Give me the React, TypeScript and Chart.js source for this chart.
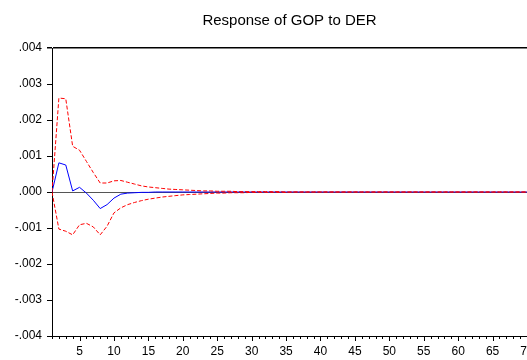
import React, { useEffect, useRef } from "react";
import { Chart, registerables } from "chart.js";

Chart.register(...registerables);

const TITLE = "Response of GOP to DER";
const periods: number[] = Array.from({ length: 70 }, (_, i) => i + 1);

const response: number[] = [
  0, 0.00081, 0.00075, 0.00003, 0.00013, -0.00003, -0.00023, -0.00046, -0.00035, -0.00017,
  -0.00006, -0.00003, -0.00002, -0.00001, -0.00001, 0, 0, 0, 0, 0,
  0, 0, 0, 0, 0, 0, 0, 0, 0, 0,
  0, 0, 0, 0, 0, 0, 0, 0, 0, 0,
  0, 0, 0, 0, 0, 0, 0, 0, 0, 0,
  0, 0, 0, 0, 0, 0, 0, 0, 0, 0,
  0, 0, 0, 0, 0, 0, 0, 0, 0, 0,
];

const upperBand: number[] = [
  0, 0.00261, 0.00259, 0.00127, 0.00116, 0.00085, 0.00054, 0.00025, 0.00025, 0.00031,
  0.00032, 0.00027, 0.00022, 0.00017, 0.00014, 0.00012, 0.0001, 0.00008, 0.00007, 0.00006,
  0.00005, 0.00004, 0.00003, 0.00003, 0.00002, 0.00002, 0.00002, 0.00001, 0.00001, 0.00001,
  0.00001, 0.00001, 0.00001, 0.00001, 0, 0, 0, 0, 0, 0,
  0, 0, 0, 0, 0, 0, 0, 0, 0, 0,
  0, 0, 0, 0, 0, 0, 0, 0, 0, 0,
  0, 0, 0, 0, 0, 0, 0, 0, 0, 0,
];

const lowerBand: number[] = [
  0, -0.00103, -0.00109, -0.00119, -0.00091, -0.00087, -0.00097, -0.00119, -0.00095, -0.00058,
  -0.00044, -0.00035, -0.00029, -0.00024, -0.0002, -0.00017, -0.00014, -0.00012, -0.0001, -0.00008,
  -0.00007, -0.00006, -0.00005, -0.00004, -0.00003, -0.00003, -0.00002, -0.00002, -0.00002, -0.00001,
  -0.00001, -0.00001, -0.00001, -0.00001, -0.00001, 0, 0, 0, 0, 0,
  0, 0, 0, 0, 0, 0, 0, 0, 0, 0,
  0, 0, 0, 0, 0, 0, 0, 0, 0, 0,
  0, 0, 0, 0, 0, 0, 0, 0, 0, 0,
];

const FONT = "'Liberation Sans', Arial, sans-serif";

function fmtY(v: number): string {
  const r = Math.round(v * 1000) / 1000;
  if (Math.abs(r) < 1e-9) return ".000";
  const s = Math.abs(r).toFixed(3).replace(/^0/, "");
  return (r < 0 ? "-" : "") + s;
}

const xTicksPlugin = {
  id: "xTicks",
  afterDraw(chart: any) {
    const xs = chart.scales.x;
    const ctx = chart.ctx;
    const area = chart.chartArea;
    ctx.save();
    ctx.strokeStyle = "#000";
    ctx.lineWidth = 1;
    for (const p of periods) {
      const px = Math.round(xs.getPixelForValue(p)) + 0.5;
      const len = p % 5 === 0 ? 5 : 3;
      ctx.beginPath();
      ctx.moveTo(px, area.bottom);
      ctx.lineTo(px, area.bottom + len);
      ctx.stroke();
    }
    // title centred over the plot area
    ctx.fillStyle = "#000";
    ctx.font = "15px " + FONT;
    ctx.textAlign = "center";
    ctx.textBaseline = "middle";
    ctx.fillText(TITLE, (area.left + area.right) / 2, 21);
    ctx.restore();
  },
};

export default function App() {
  const ref = useRef<HTMLCanvasElement | null>(null);
  useEffect(() => {
    document.body.style.margin = "0";
    const canvas = ref.current;
    if (!canvas) return;
    const mk = (d: number[]) => periods.map((p, i) => ({ x: p, y: d[i] }));
    const chart = new Chart(canvas, {
      type: "line",
      data: {
        datasets: [
          {
            label: "upper",
            data: mk(upperBand),
            borderColor: "#FF0000",
            borderWidth: 1,
            borderDash: [4, 2],
            pointRadius: 0,
            tension: 0,
            order: 0,
          },
          {
            label: "lower",
            data: mk(lowerBand),
            borderColor: "#FF0000",
            borderWidth: 1,
            borderDash: [4, 2],
            pointRadius: 0,
            tension: 0,
            order: 1,
          },
          {
            label: "response",
            data: mk(response),
            borderColor: "#0000FF",
            borderWidth: 1,
            pointRadius: 0,
            tension: 0,
            order: 2,
          },
        ],
      },
      options: {
        animation: false,
        responsive: false,
        maintainAspectRatio: false,
        layout: { padding: { left: 0, right: 0, top: 48, bottom: 0 } },
        plugins: {
          legend: { display: false },
          tooltip: { enabled: false },
          title: { display: false },
        },
        scales: {
          x: {
            type: "linear",
            min: 1,
            max: 70,
            border: { display: true, color: "#000", width: 1 },
            grid: { display: true, drawOnChartArea: false, drawTicks: false },
            ticks: {
              stepSize: 1,
              autoSkip: false,
              maxRotation: 0,
              padding: 8,
              color: "#000",
              font: { family: FONT, size: 12 },
              callback: (v: any) => (Number(v) % 5 === 0 ? String(v) : ""),
            },
            afterFit: (s: any) => {
              s.height = 24;
              s.paddingLeft = 0;
              s.paddingRight = 0;
            },
          },
          y: {
            min: -0.004,
            max: 0.004,
            border: { display: true, color: "#000", width: 1 },
            grid: {
              drawOnChartArea: true,
              drawTicks: true,
              tickLength: 5,
              tickColor: "#000",
              color: (c: any) => {
                const v = c.tick ? c.tick.value : NaN;
                if (Math.abs(v) < 1e-9) return "#555555";
                if (Math.abs(v - 0.004) < 1e-9) return "#000000";
                return "rgba(0,0,0,0)";
              },
              lineWidth: (c: any) => {
                const v = c.tick ? c.tick.value : NaN;
                if (Math.abs(v - 0.004) < 1e-9) return 1.5;
                return 1;
              },
            },
            ticks: {
              stepSize: 0.001,
              padding: 5,
              color: "#000",
              font: { family: FONT, size: 12 },
              callback: (v: any) => fmtY(Number(v)),
            },
            afterFit: (s: any) => {
              s.width = 52;
            },
          },
        },
      },
      plugins: [xTicksPlugin],
    });
    return () => chart.destroy();
  }, []);
  return (
    <div style={{ width: 527, height: 360, background: "#fff" }}>
      <canvas ref={ref} width={527} height={360} style={{ display: "block" }} />
    </div>
  );
}
